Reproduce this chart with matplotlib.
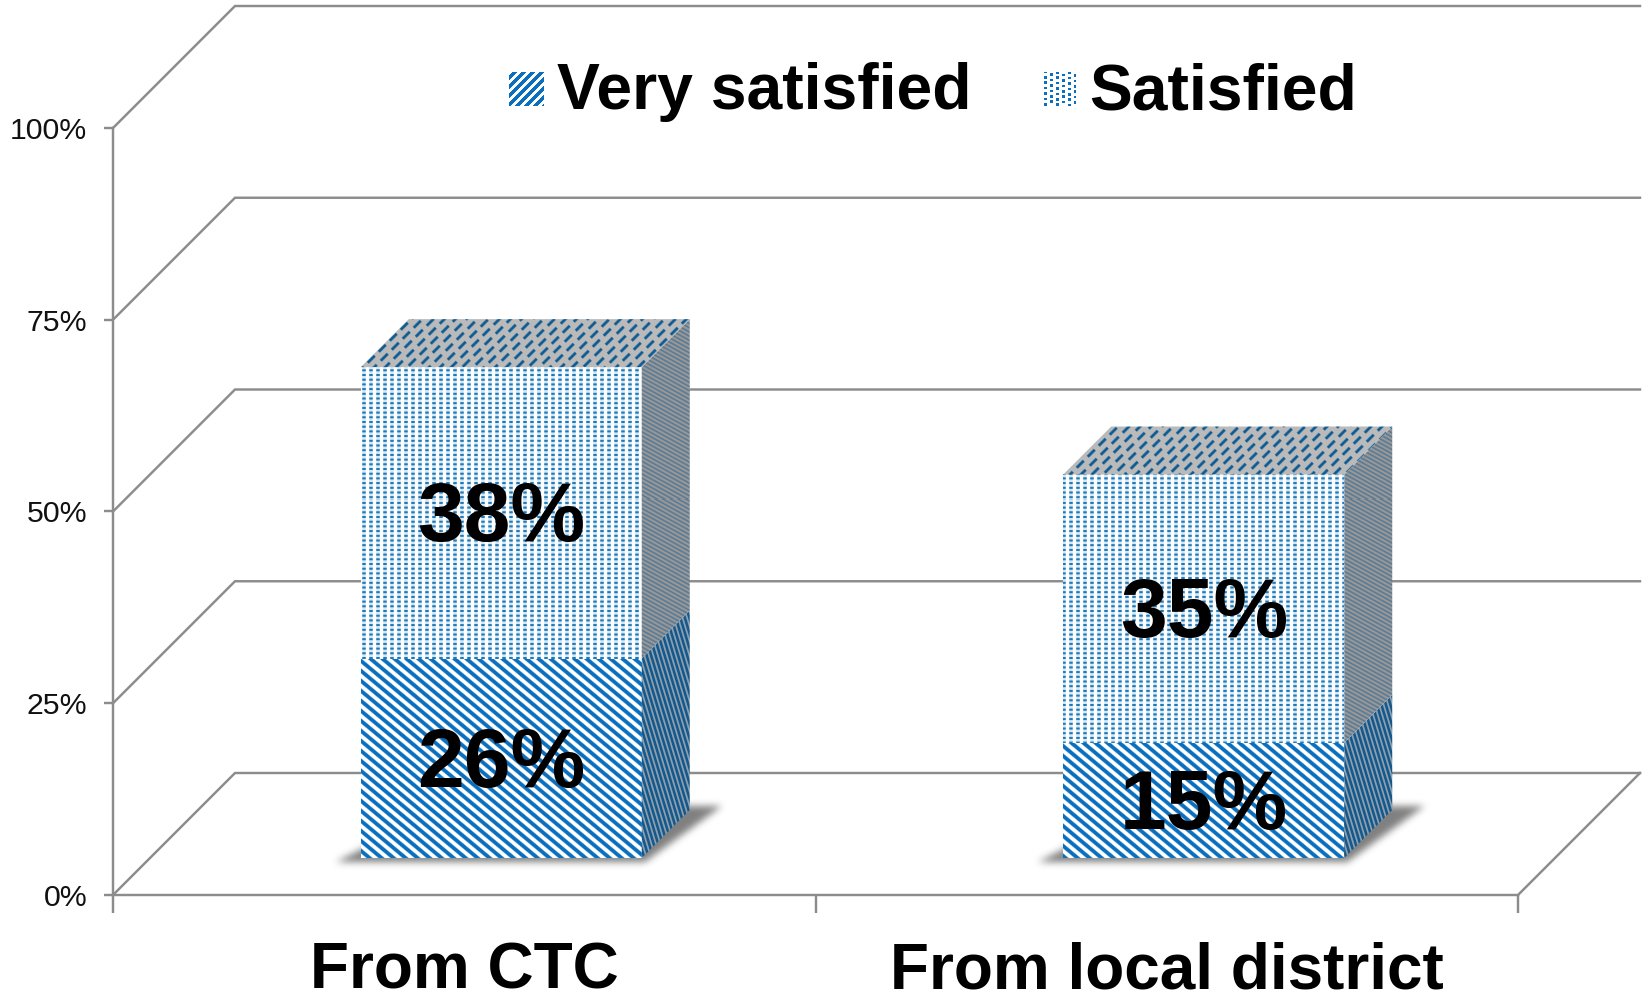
import numpy as np
import matplotlib
matplotlib.use("Agg")
import matplotlib.pyplot as plt
from matplotlib.patches import Polygon, Patch, Rectangle
from matplotlib.path import Path
from matplotlib.transforms import IdentityTransform

categories = ["From CTC", "From local district"]
very_satisfied = [26, 15]
satisfied = [38, 35]
series_names = ["Very satisfied", "Satisfied"]
y_ticks = [0, 25, 50, 75, 100]
y_tick_labels = ["0%", "25%", "50%", "75%", "100%"]

W, H = 1646, 996
LINE = "#8c8c8c"
plt.rcParams["font.family"] = ["Liberation Sans", "DejaVu Sans"]

fig = plt.figure(figsize=(W / 100, H / 100), dpi=100, facecolor="white")
ax = fig.add_axes([113 / W, (H - 895) / H, (1518 - 113) / W, (895 - 128) / H])
ax.set_xlim(-0.5, 1.5)
ax.set_ylim(0, 100)
ax.autoscale(False)
ax.set_facecolor("none")

PX_X = (1518 - 113) / 2.0      # px per category
PX_Y = (895 - 128) / 100.0     # px per percent


def P(x, v, d=0.0):
    """Oblique projection: category x, value v, depth d in px."""
    return (x + d / PX_X, v + d / PX_Y)


# ---- walls and gridlines -------------------------------------------------
WALL = 122
LW = 1.75
for t in y_ticks:
    a, b, c = P(-0.5, t), P(-0.5, t, WALL), P(1.5, t, WALL)
    ax.plot([a[0], b[0], c[0]], [a[1], b[1], c[1]], color=LINE, lw=LW,
            clip_on=False, zorder=1, solid_joinstyle="miter")
a, b = P(1.5, 0), P(1.5, 0, WALL)
ax.plot([a[0], b[0]], [a[1], b[1]], color=LINE, lw=LW, clip_on=False, zorder=1)

for s in ("top", "right"):
    ax.spines[s].set_visible(False)
for s in ("left", "bottom"):
    ax.spines[s].set_color(LINE)
    ax.spines[s].set_linewidth(LW)
ax.set_yticks(y_ticks, labels=y_tick_labels)
ax.tick_params(axis="y", length=6.5, width=LW, color=LINE, labelsize=21.8, pad=12,
               labelcolor="#111111")
ax.set_xticks([-0.5, 0.5, 1.5], labels=["", "", ""])
ax.tick_params(axis="x", which="major", length=13, width=LW, color=LINE)
ax.set_xticks([0, 1], labels=categories, minor=True)
ax.tick_params(axis="x", which="minor", length=0, labelsize=46, pad=33.5)
for lab in ax.get_xticklabels(minor=True):
    lab.set_fontweight("bold")

# ---- fill textures, in figure pixels -------------------------------------
X, Y = np.meshgrid(np.arange(W) + 0.5, np.arange(H) + 0.5)


def hexrgb(c):
    return np.array(matplotlib.colors.to_rgb(c))


def mix(v, light, dark):
    v = np.clip(v, 0, 1)[..., None]
    return hexrgb(light) * (1 - v) + hexrgb(dark) * v


def wave(t, period):
    return 0.5 + 0.5 * np.cos(2 * np.pi * t / period)


def tex_very_front():
    return mix(2.0 * wave(X - 1.2 * Y, 12.0) - 0.5, "#ffffff", "#0a6fbe")


def tex_sat_front():
    col = np.clip(2.2 * wave(X, 7.0) - 0.6, 0, 1)
    row = np.clip(1.7 * wave(Y, 4.7) - 0.5, 0, 1)
    base = mix(col * 0.5, "#ffffff", "#a9d2ec")
    v = (col * row)[..., None]
    return base * (1 - v) + hexrgb("#1f78b8") * v


def tex_very_side():
    return mix(1.5 * wave(X - 0.3 * Y, 4.5) - 0.05, "#8fa0ae", "#14588c")


def tex_sat_side():
    return mix(1.3 * wave(Y - 0.55 * X, 4.2) - 0.25, "#979797", "#5a7b96")


def tex_sat_top():
    across = (X + Y) / 11.0
    idx = np.floor(across)
    line = np.clip(1.6 - np.abs(across - idx - 0.5) * 11 / 1.8, 0, 1)
    along = np.mod(X - Y + idx * 7.0, 22.0)
    dash = np.clip(4 * (1 - np.abs(along - 11) / 8.0), 0, 1)
    return mix(line * dash, "#bababa", "#0d5b93")


def tex_leg_very():
    return mix((np.mod(X + Y, 9.0) < 4.6) * 1.0, "#ffffff", "#0a6fbe")


def tex_leg_sat():
    return mix(((np.mod(X, 5.9) < 2.6) & (np.mod(Y + np.floor(X / 5.9) * 2.5, 5.4) < 2.6)) * 1.0,
               "#ffffff", "#0a6fbe")


inv = ax.transData.inverted()
(x0, y1), (x1, y0) = inv.transform([(0, H), (W, 0)])
EXTENT = (x0, x1, y0, y1)


def textured(rgb, clip, z):
    im = ax.imshow(rgb, extent=EXTENT, aspect="auto", interpolation="nearest",
                   origin="upper", zorder=z)
    im.set_clip_box(fig.bbox)
    im.set_clip_path(clip)
    return im


def face(points, rgb, z):
    poly = Polygon(points, closed=True, transform=ax.transData, fc="none", ec="none")
    textured(rgb, poly, z)


T = {"vf": tex_very_front(), "sf": tex_sat_front(), "vs": tex_very_side(),
     "ss": tex_sat_side(), "st": tex_sat_top()}

# ---- soft shadows ---------------------------------------------------------


def blurred(mask, n=5, passes=3):
    out = mask.astype(float)
    kernel = np.ones(2 * n + 1) / (2 * n + 1)
    for _ in range(passes):
        out = np.apply_along_axis(lambda r: np.convolve(r, kernel, "same"), 1, out)
        out = np.apply_along_axis(lambda r: np.convolve(r, kernel, "same"), 0, out)
    return out


HALF = 0.2       # half of a bar's width, in categories
D0, D1 = 37, 85  # front and back plane of a bar, in px of depth
LABEL_DROP = 6.5 # px
for i in range(len(categories)):
    pts = [P(i - HALF - 0.03, 0, D0 - 4), P(i + HALF + 0.01, 0, D0 - 4),
           P(i + HALF + 0.04, 0, D1 + 4), P(i - HALF + 0.05, 0, D1 + 4)]
    disp = ax.transData.transform(pts)
    disp[:, 1] = H - disp[:, 1]
    xa, xb = int(disp[:, 0].min()) - 40, int(disp[:, 0].max()) + 40
    ya, yb = int(disp[:, 1].min()) - 40, int(disp[:, 1].max()) + 40
    sub_x, sub_y = X[ya:yb, xa:xb], Y[ya:yb, xa:xb]
    m = Path(disp).contains_points(np.c_[sub_x.ravel(), sub_y.ravel()]).reshape(sub_x.shape)
    alpha = blurred(m, n=3, passes=3) * 0.78
    rgba = np.zeros((H, W, 4))
    rgba[..., :3] = hexrgb("#5c5c5c")
    rgba[ya:yb, xa:xb, 3] = alpha
    im = ax.imshow(rgba, extent=EXTENT, aspect="auto", interpolation="nearest",
                   origin="upper", zorder=2)
    im.set_clip_box(fig.bbox)

# ---- stacked 3-D bars -----------------------------------------------------
for i in range(len(categories)):
    l, r = i - HALF, i + HALF
    v = very_satisfied[i]
    t = v + satisfied[i]
    face([P(l, 0, D0), P(r, 0, D0), P(r, v, D0), P(l, v, D0)], T["vf"], 3)
    face([P(l, v, D0), P(r, v, D0), P(r, t, D0), P(l, t, D0)], T["sf"], 3)
    face([P(r, 0, D0), P(r, 0, D1), P(r, v, D1), P(r, v, D0)], T["vs"], 3)
    face([P(r, v, D0), P(r, v, D1), P(r, t, D1), P(r, t, D0)], T["ss"], 3)
    face([P(l, t, D0), P(r, t, D0), P(r, t, D1), P(l, t, D1)], T["st"], 3)
    for base, val in ((0, v), (v, satisfied[i])):
        x, y = P(i, base + val / 2.0, D0)
        ax.text(x, y - LABEL_DROP / PX_Y, f"{val}%", ha="center", va="center", fontsize=60.5,
                fontweight="bold", color="black", zorder=5)

# ---- legend ---------------------------------------------------------------
handles = [Patch(facecolor="none", edgecolor="none", label=n) for n in series_names]
leg = ax.legend(handles=handles, loc="center", frameon=False, ncol=2,
                prop={"weight": "bold", "size": 46.3}, handlelength=0.54, handleheight=0.54,
                handletextpad=0.2, columnspacing=1.09, borderpad=0, borderaxespad=0,
                bbox_to_anchor=(933, H - 92), bbox_transform=IdentityTransform())
for txt in leg.get_texts():
    txt.set_fontweight("bold")

fig.canvas.draw()
for patch, rgb in zip(leg.get_patches(), (tex_leg_very(), tex_leg_sat())):
    bb = patch.get_window_extent()
    clip = Rectangle((bb.x0, H - 106), bb.width, 34, transform=IdentityTransform())
    textured(rgb, clip, 6)

fig.savefig("out.png", dpi=100, facecolor="white")
